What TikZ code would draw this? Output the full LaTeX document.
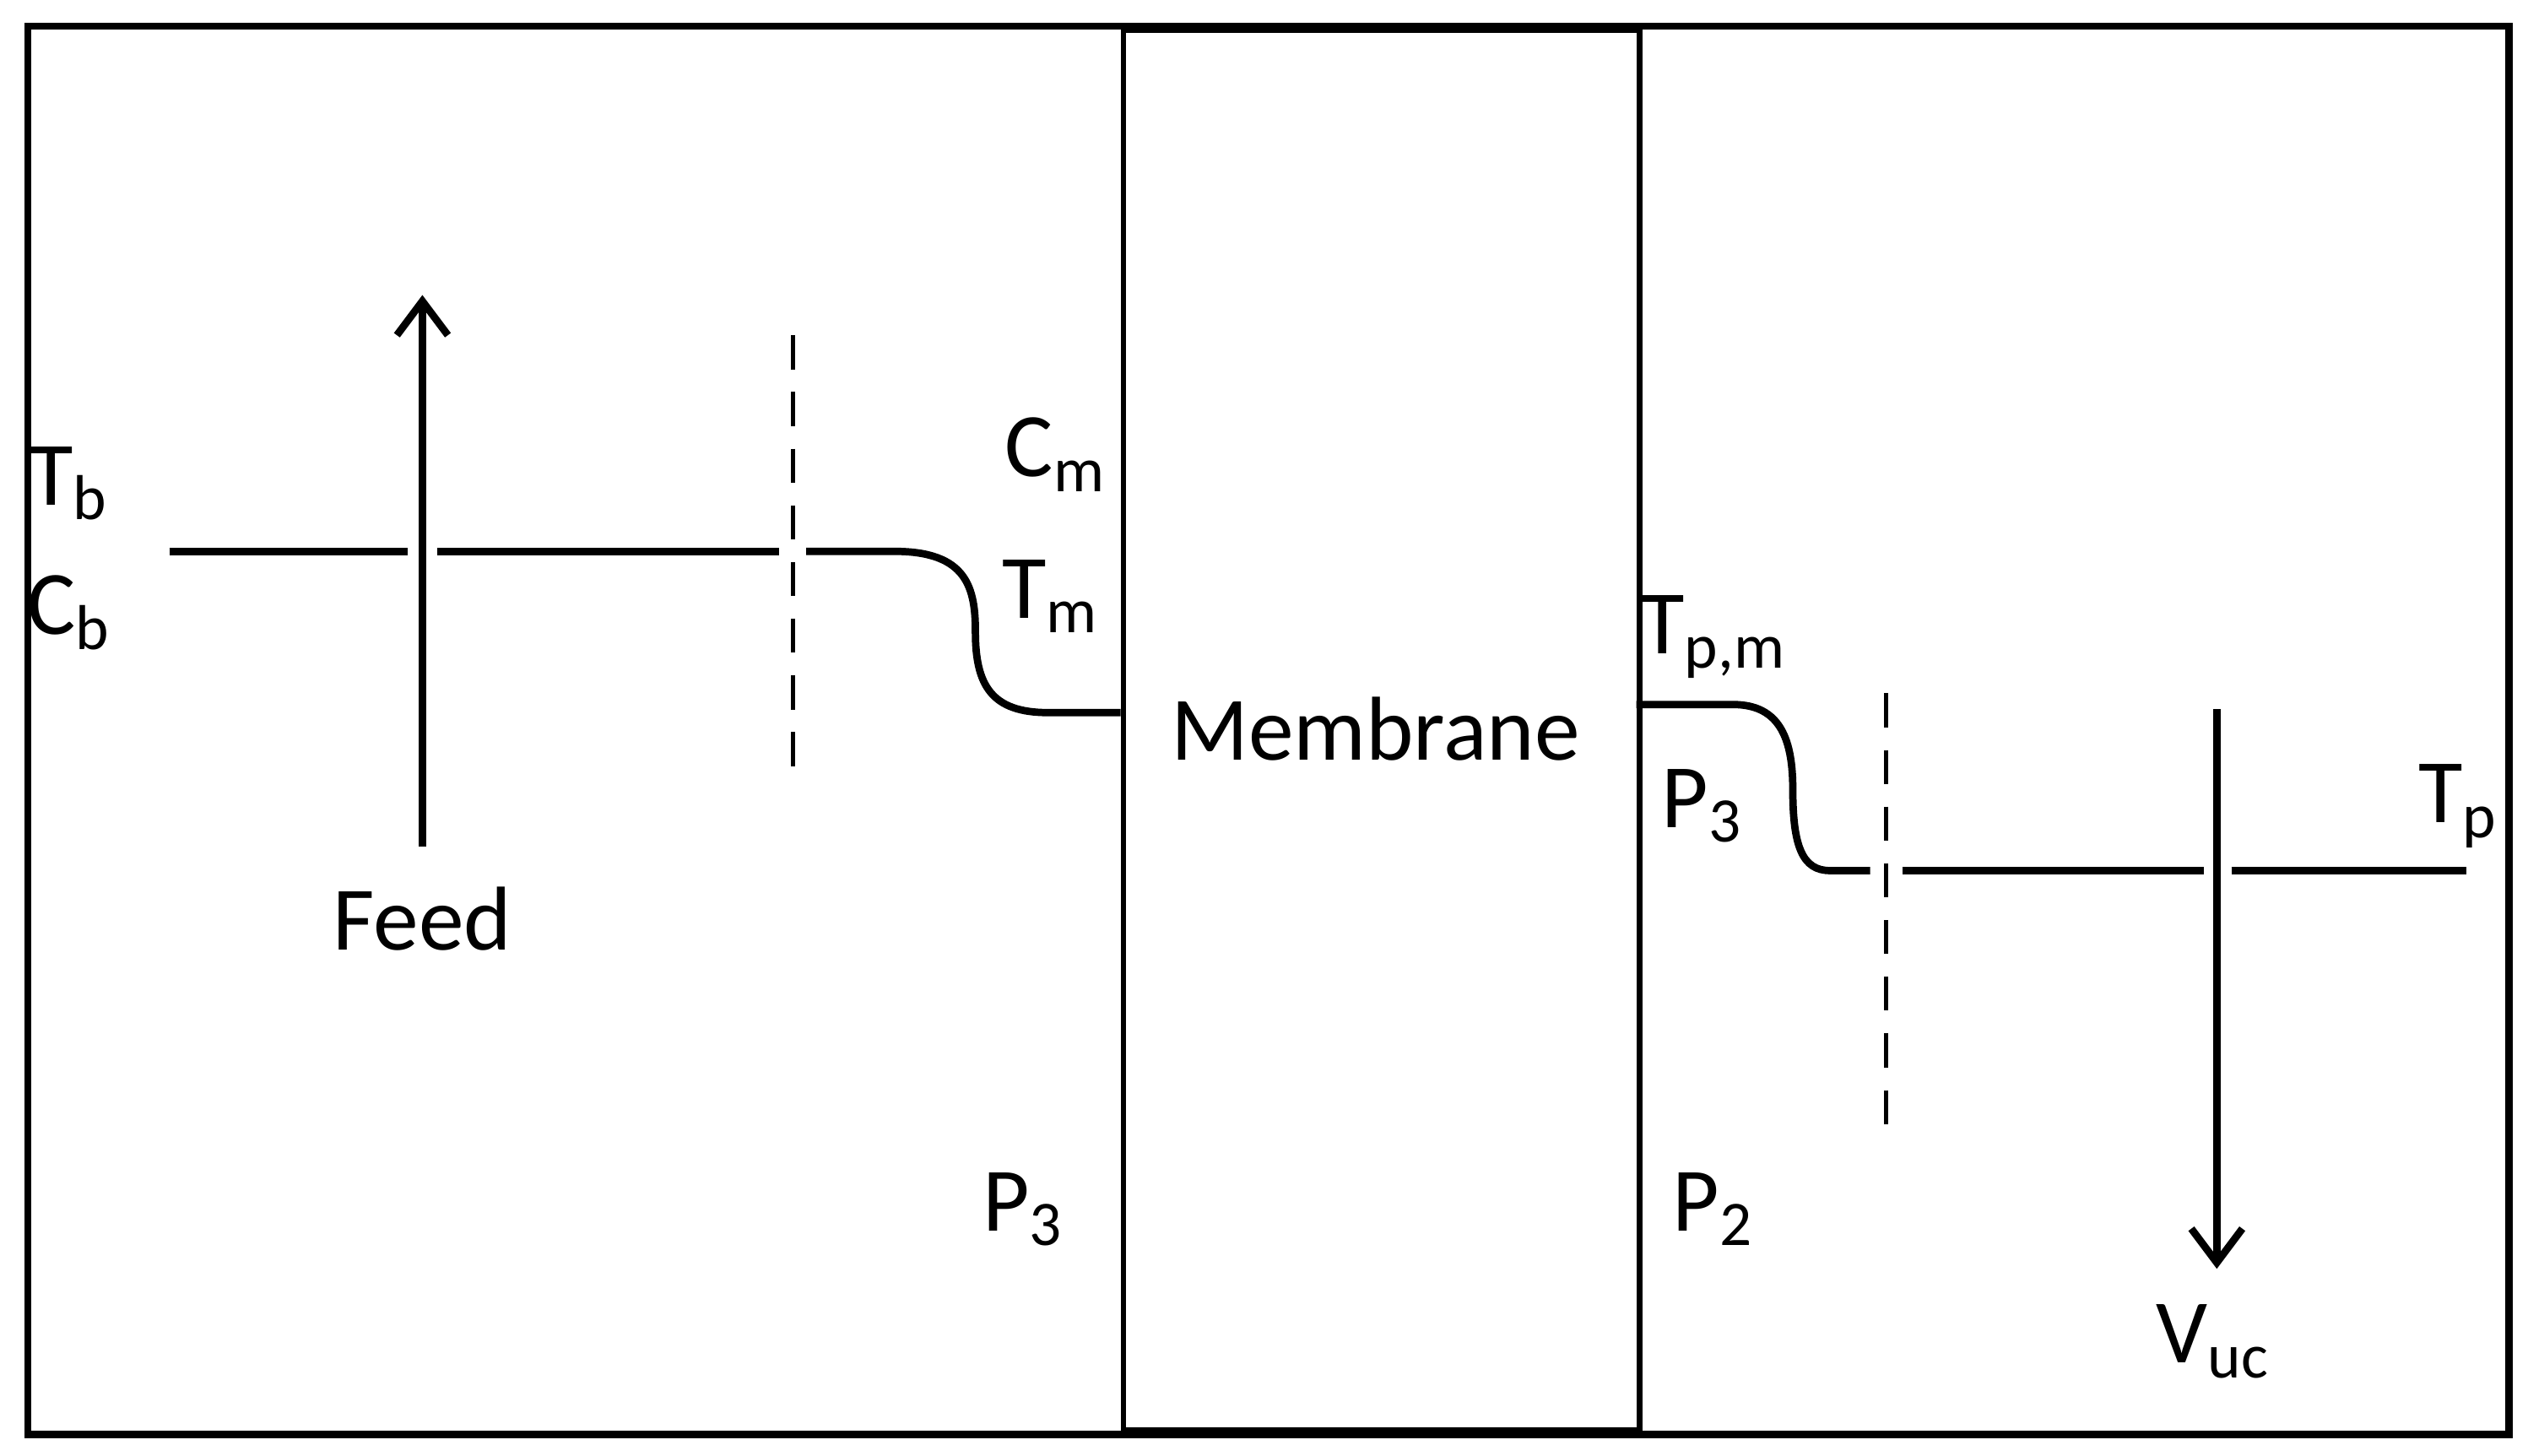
\documentclass[tikz,border=0pt]{standalone}
\usepackage{fontspec}
\setmainfont{Carlito}
\usetikzlibrary{arrows.meta}
\begin{document}
\begin{tikzpicture}[x=0.01cm,y=-0.01cm,
  lbl/.style={font=\fontsize{16}{18}\selectfont,inner sep=0pt},
  prof/.style={line width=1.3pt},
  flow/.style={line width=1.3pt,-{Straight Barb[length=6pt,width=9pt]}},
  dashln/.style={line width=0.8pt,dash pattern=on 6pt off 4pt}]
\useasboundingbox (0,0) rectangle (1568,903);
\node[draw,line width=1.3pt,minimum width=15.38cm,minimum height=8.73cm,anchor=north west,inner sep=0pt] (frame) at (15,14) {};
\node[draw,line width=1pt,minimum width=3.2cm,minimum height=8.68cm,anchor=north west,inner sep=0pt] (mem) at (695,17) {};
\node[lbl] (memt) at (853,452) {Membrane};
% left profile
\coordinate (l0) at (105,342);
\coordinate (l1) at (253,342);
\coordinate (l2) at (271,342);
\coordinate (l3) at (483,342);
\coordinate (l4) at (500,342);
\coordinate (l5) at (650,442);
\draw[prof] (l0) -- (l1);
\draw[prof] (l2) -- (l3);
\draw[prof] (l4) -- (555,342) .. controls (600,342) and (605,365) .. (605,392) .. controls (605,425) and (615,442) .. (l5) -- (mem.west |- l5);
\coordinate (fa) at (262,525);
\coordinate (fb) at (262,183);
\draw[flow] (fa) -- (fb);
\coordinate (d1a) at (492,208);
\coordinate (d1b) at (492,488);
\draw[dashln] (d1a) -- (d1b);
% right profile
\coordinate (r0) at (1015,437);
\coordinate (r1) at (1160,540);
\coordinate (r2) at (1180,540);
\coordinate (r3) at (1367,540);
\coordinate (r4) at (1384,540);
\coordinate (r5) at (1530,540);
\draw[prof] (r0) -- (1075,437) .. controls (1105,437) and (1112,460) .. (1112,490) .. controls (1112,525) and (1118,540) .. (1135,540) -- (r1);
\draw[prof] (r2) -- (r3);
\draw[prof] (r4) -- (r5);
\coordinate (va) at (1375,440);
\coordinate (vb) at (1375,787);
\draw[flow] (va) -- (vb);
\coordinate (d2a) at (1170,430);
\coordinate (d2b) at (1170,705);
\draw[dashln] (d2a) -- (d2b);
% labels
\node[lbl] (tb) at (43,300) {T\textsubscript{b}};
\node[lbl] (cb) at (43,380) {C\textsubscript{b}};
\node[lbl] (cm) at (655,282) {C\textsubscript{m}};
\node[lbl] (tm) at (652,370) {T\textsubscript{m}};
\node[lbl] (feed) at (262,570) {Feed};
\node[lbl] (tpm) at (1063,395) {T\textsubscript{p,m}};
\node[lbl] (p3r) at (1056,500) {P\textsubscript{3}};
\node[lbl] (p3l) at (635,750) {P\textsubscript{3}};
\node[lbl] (p2) at (1063,750) {P\textsubscript{2}};
\node[lbl] (tp) at (1525,500) {T\textsubscript{p}};
\node[lbl] (vuc) at (1373,832) {V\textsubscript{uc}};
\end{tikzpicture}
\end{document}
